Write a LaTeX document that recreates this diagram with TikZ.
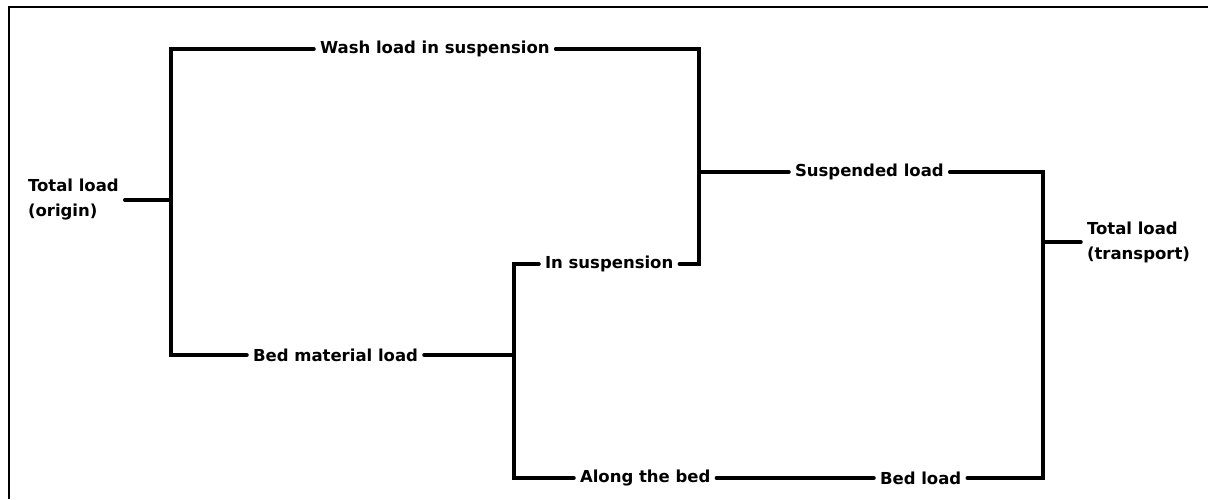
\documentclass[tikz,border=0pt]{standalone}
\usepackage{fontspec}
\setmainfont{DejaVu Sans}
\begin{document}
\begin{tikzpicture}[x=1pt,y=-1pt,
  lbl/.style={inner sep=0pt, outer sep=6pt, font=\fontsize{16.5}{25}\selectfont\bfseries, align=left},
  conn/.style={line width=3.5pt, line cap=round, line join=miter}]
\useasboundingbox (0,0) rectangle (1208,499);
\draw[line width=2.2pt] (9,499) -- (9,7) -- (1208,7);
% nodes
\node[lbl, anchor=west] (origin) at (22,200) {Total load\\(origin)};
\node[lbl, anchor=west] (wash) at (314,49) {Wash load in suspension};
\node[lbl, anchor=west] (bedmat) at (247,355) {Bed material load};
\node[lbl, anchor=west] (insusp) at (539,264) {In suspension};
\node[lbl, anchor=west] (along) at (574,478) {Along the bed};
\node[lbl, anchor=west] (susp) at (789,172) {Suspended load};
\node[lbl, anchor=west] (bedload) at (874,478) {Bed load};
\node[lbl, anchor=west] (transport) at (1081,242) {Total load\\(transport)};
% junctions
\coordinate (j1) at (171,200);
\coordinate (j2) at (699,172);
\coordinate (j3) at (514,355);
\coordinate (j4) at (1043,242);
% connectors
\draw[conn] (origin.east) -- (j1);
\draw[conn] (wash.west) -| (j1) |- (bedmat.west);
\draw[conn] (wash.east) -| (j2) |- (insusp.east);
\draw[conn] (j2) -- (susp.west);
\draw[conn] (bedmat.east) -- (j3);
\draw[conn] (insusp.west) -| (j3) |- (along.west);
\draw[conn] (along.east) -- (bedload.west);
\draw[conn] (susp.east) -| (j4) |- (bedload.east);
\draw[conn] (j4) -- (transport.west);
\end{tikzpicture}
\end{document}
